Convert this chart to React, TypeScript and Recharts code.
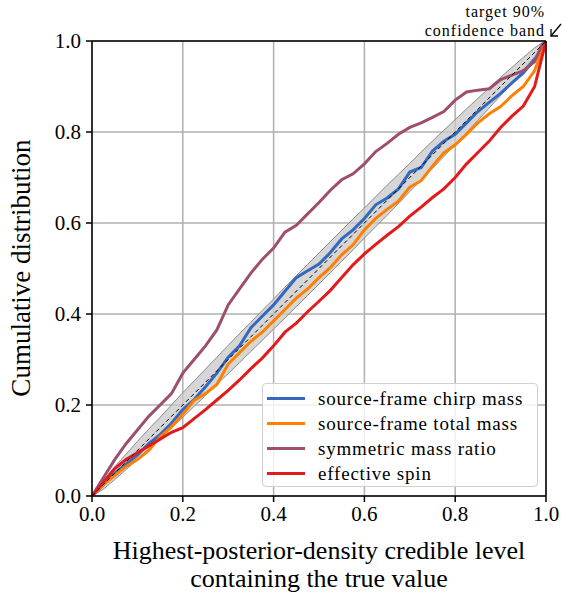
import React from 'react';
import {
  ComposedChart,
  Line,
  Area,
  XAxis,
  YAxis,
  CartesianGrid,
  ReferenceLine,
} from 'recharts';

// credible levels (shared grid)
const LEVELS = [
  0, 0.025, 0.05, 0.075, 0.1, 0.125, 0.15, 0.175, 0.2, 0.225, 0.25, 0.275, 0.3, 0.325, 0.35, 0.375,
  0.4, 0.425, 0.45, 0.475, 0.5, 0.525, 0.55, 0.575, 0.6, 0.625, 0.65, 0.675, 0.7, 0.725, 0.75, 0.775,
  0.8, 0.825, 0.85, 0.875, 0.9, 0.925, 0.95, 0.975, 0.99, 1,
];

const CHIRP = [
  0, 0.025, 0.05, 0.07, 0.09, 0.115, 0.135, 0.16, 0.19, 0.212, 0.24, 0.27, 0.305, 0.33, 0.37, 0.395,
  0.42, 0.45, 0.48, 0.495, 0.51, 0.535, 0.565, 0.585, 0.61, 0.64, 0.655, 0.675, 0.712, 0.722, 0.758, 0.78,
  0.795, 0.82, 0.845, 0.865, 0.885, 0.908, 0.93, 0.96, 0.975, 1,
];

const TOTAL = [
  0, 0.025, 0.045, 0.065, 0.08, 0.1, 0.13, 0.152, 0.18, 0.21, 0.225, 0.245, 0.29, 0.315, 0.34, 0.36,
  0.385, 0.41, 0.435, 0.455, 0.48, 0.502, 0.53, 0.552, 0.585, 0.61, 0.63, 0.648, 0.679, 0.693, 0.725, 0.754,
  0.772, 0.795, 0.82, 0.84, 0.856, 0.88, 0.9, 0.935, 0.975, 1,
];

const ETA = [
  0, 0.04, 0.08, 0.115, 0.145, 0.175, 0.2, 0.225, 0.27, 0.3, 0.33, 0.365, 0.42, 0.455, 0.49, 0.52,
  0.545, 0.58, 0.595, 0.62, 0.645, 0.672, 0.695, 0.708, 0.73, 0.757, 0.775, 0.795, 0.81, 0.82, 0.832, 0.845,
  0.87, 0.888, 0.892, 0.895, 0.915, 0.925, 0.935, 0.955, 0.99, 1,
];

const SPIN = [
  0, 0.03, 0.06, 0.08, 0.095, 0.11, 0.125, 0.14, 0.15, 0.17, 0.19, 0.211, 0.232, 0.255, 0.28, 0.303,
  0.33, 0.36, 0.38, 0.405, 0.428, 0.452, 0.48, 0.508, 0.532, 0.553, 0.573, 0.592, 0.615, 0.635, 0.656, 0.675,
  0.7, 0.73, 0.755, 0.78, 0.81, 0.835, 0.857, 0.9, 0.96, 1,
];

// 90% band edges
const BAND_LO = [
  0, 0.015, 0.036, 0.058, 0.08, 0.103, 0.127, 0.15, 0.173, 0.197, 0.221, 0.245, 0.269, 0.293, 0.318, 0.342,
  0.367, 0.391, 0.416, 0.441, 0.466, 0.491, 0.516, 0.541, 0.567, 0.592, 0.617, 0.643, 0.669, 0.694, 0.72, 0.746,
  0.773, 0.799, 0.826, 0.853, 0.88, 0.908, 0.936, 0.965, 0.985, 1,
];
const BAND_HI = [
  0, 0.035, 0.064, 0.092, 0.12, 0.147, 0.173, 0.2, 0.227, 0.253, 0.279, 0.305, 0.331, 0.357, 0.382, 0.408,
  0.433, 0.459, 0.484, 0.509, 0.534, 0.559, 0.584, 0.609, 0.633, 0.658, 0.683, 0.707, 0.731, 0.756, 0.78, 0.804,
  0.827, 0.851, 0.874, 0.897, 0.92, 0.942, 0.964, 0.985, 0.995, 1,
];

const DIAGONAL = [
  { x: 0, d: 0 },
  { x: 1, d: 1 },
];

const TICKS = [0, 0.2, 0.4, 0.6, 0.8, 1];

const SERIES = [
  { key: 'chirp', name: 'source-frame chirp mass', color: '#3468c0' },
  { key: 'total', name: 'source-frame total mass', color: '#ff7f00' },
  { key: 'eta', name: 'symmetric mass ratio', color: '#9e4f6e' },
  { key: 'spin', name: 'effective spin', color: '#e31a1c' },
];

const data = LEVELS.map((x, i) => ({
  x,
  chirp: CHIRP[i],
  total: TOTAL[i],
  eta: ETA[i],
  spin: SPIN[i],
  band: [BAND_LO[i], BAND_HI[i]],
}));

const FONT = '"Liberation Serif", serif';

const App: React.FC = () => {
  return (
    <div style={{ position: 'absolute', left: 0, top: 0, width: 564, height: 595, background: '#fff', fontFamily: FONT }}>
      <ComposedChart
        width={564}
        height={595}
        data={data}
        margin={{ top: 41, right: 18, bottom: 0, left: 0 }}
      >
        <CartesianGrid stroke="#b0b0b0" strokeWidth={1.5} horizontalValues={TICKS} verticalValues={TICKS} />
        <XAxis
          dataKey="x"
          type="number"
          domain={[0, 1]}
          ticks={TICKS}
          height={99}
          tickFormatter={(v: number) => v.toFixed(1)}
          tick={{ fill: '#000', fontSize: 21, fontFamily: FONT }}
          tickSize={6}
          tickMargin={4}
          stroke="#000"
          strokeWidth={1.5}
          allowDataOverflow
        />
        <YAxis
          type="number"
          domain={[0, 1]}
          ticks={TICKS}
          width={92}
          tickFormatter={(v: number) => v.toFixed(1)}
          tick={{ fill: '#000', fontSize: 21, fontFamily: FONT }}
          tickSize={6}
          tickMargin={5}
          stroke="#000"
          strokeWidth={1.5}
          allowDataOverflow
        />
        <Area
          dataKey="band"
          type="linear"
          fill="#c8c8c8"
          fillOpacity={0.75}
          stroke="#8c8c8c"
          strokeWidth={1}
          isAnimationActive={false}
        />
        {SERIES.map((s) => (
          <Line
            key={s.key}
            dataKey={s.key}
            type="linear"
            stroke={s.color}
            strokeWidth={3}
            dot={false}
            isAnimationActive={false}
          />
        ))}
        <Line
          data={DIAGONAL}
          dataKey="d"
          type="linear"
          stroke="#000"
          strokeWidth={1}
          strokeDasharray="4 3"
          dot={false}
          isAnimationActive={false}
        />
        <ReferenceLine x={1} stroke="#000" strokeWidth={1.5} />
        <ReferenceLine y={1} stroke="#000" strokeWidth={1.5} />
      </ComposedChart>

      {/* legend */}
      <div
        style={{
          position: 'absolute',
          left: 262,
          top: 383,
          width: 276,
          height: 104,
          border: '1.5px solid #d0d0d0',
          borderRadius: 4,
          background: 'rgba(255,255,255,0.8)',
          boxSizing: 'border-box',
          padding: '2px 0 0 4px',
        }}
      >
        {SERIES.map((s) => (
          <div key={s.key} style={{ display: 'flex', alignItems: 'center', height: 25 }}>
            <div style={{ width: 38, height: 3, background: s.color, marginRight: 13 }} />
            <span style={{ fontSize: 19, letterSpacing: 0.8, color: '#000', whiteSpace: 'nowrap' }}>{s.name}</span>
          </div>
        ))}
      </div>

      {/* annotation */}
      <div
        style={{
          position: 'absolute',
          right: 19,
          top: 2,
          textAlign: 'right',
          fontSize: 16,
          letterSpacing: 1,
          lineHeight: '19px',
          color: '#000',
          whiteSpace: 'nowrap',
        }}
      >
        target 90%
        <br />
        confidence band
      </div>
      <svg style={{ position: 'absolute', left: 548, top: 22 }} width={16} height={18}>
        <line x1={13} y1={2} x2={3} y2={14} stroke="#000" strokeWidth={1.3} />
        <polyline points="3,7 3,14 10,14" fill="none" stroke="#000" strokeWidth={1.3} />
      </svg>

      {/* axis titles */}
      <div
        style={{
          position: 'absolute',
          left: 21,
          top: 268,
          transform: 'translate(-50%, -50%) rotate(-90deg)',
          whiteSpace: 'nowrap',
          fontSize: 27,
          color: '#000',
        }}
      >
        Cumulative distribution
      </div>
      <div
        style={{
          position: 'absolute',
          left: 319,
          top: 537,
          transform: 'translateX(-50%)',
          whiteSpace: 'nowrap',
          textAlign: 'center',
          fontSize: 26,
          lineHeight: '28px',
          color: '#000',
        }}
      >
        Highest-posterior-density credible level
        <br />
        containing the true value
      </div>
    </div>
  );
};

export default App;
